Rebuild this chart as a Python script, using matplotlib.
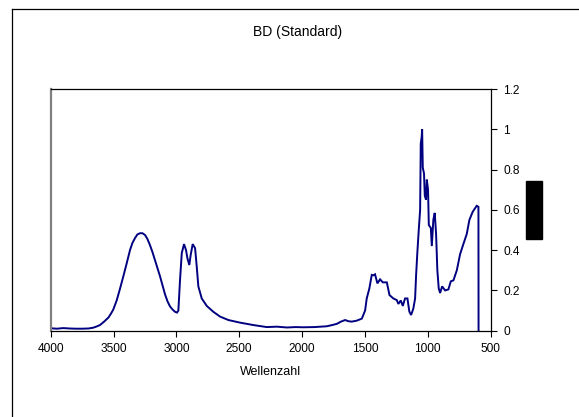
import matplotlib
matplotlib.use("Agg")
import matplotlib.pyplot as plt
from matplotlib.lines import Line2D
from matplotlib.patches import Rectangle

plt.rcParams['font.family'] = ['Liberation Sans', 'DejaVu Sans']

title = "BD (Standard)"
xlabel = "Wellenzahl"
xticks = [4000, 3500, 3000, 2500, 2000, 1500, 1000, 500]
yticks = [0, 0.2, 0.4, 0.6, 0.8, 1.0, 1.2]
ytick_labels = ["0", "0.2", "0.4", "0.6", "0.8", "1", "1.2"]

wavenumber = [4000, 3950, 3900, 3850, 3800, 3750, 3700, 3661, 3630, 3608, 3575, 3541, 3520,
              3502, 3475, 3450, 3422, 3395, 3369, 3350, 3329, 3310, 3289, 3270, 3249, 3230,
              3210, 3190, 3170, 3150, 3130, 3110, 3090, 3070, 3050, 3030, 3011, 2995, 2984,
              2971, 2957, 2939, 2923, 2912, 2897, 2886, 2870, 2851, 2838, 2825, 2798, 2758,
              2706, 2652, 2586, 2493, 2387, 2281, 2200, 2121, 2050, 1989, 1900, 1803, 1760,
              1723, 1690, 1657, 1630, 1604, 1564, 1524, 1498, 1485, 1464, 1445, 1432, 1419,
              1400, 1379, 1357, 1325, 1304, 1273, 1246, 1233, 1214, 1198, 1180, 1161, 1146,
              1132, 1114, 1100, 1092, 1082, 1071, 1060, 1055, 1048, 1044, 1039, 1029, 1023,
              1013, 1007, 997, 991, 975, 967, 955, 944, 933, 923, 912, 901, 885, 861, 835,
              816, 795, 768, 742, 716, 689, 668, 642, 610, 596, 595]
absorbance = [0.012, 0.010, 0.013, 0.011, 0.010, 0.010, 0.011, 0.015, 0.022, 0.028, 0.045, 0.065, 0.085,
              0.105, 0.150, 0.205, 0.270, 0.335, 0.400, 0.435, 0.460, 0.478, 0.484, 0.484, 0.475, 0.455,
              0.425, 0.390, 0.350, 0.310, 0.270, 0.225, 0.180, 0.145, 0.120, 0.105, 0.094, 0.090, 0.100,
              0.250, 0.385, 0.430, 0.400, 0.360, 0.326, 0.376, 0.430, 0.410, 0.320, 0.220, 0.160, 0.123,
              0.094, 0.070, 0.053, 0.040, 0.028, 0.018, 0.020, 0.016, 0.018, 0.017, 0.018, 0.022, 0.028,
              0.034, 0.045, 0.053, 0.047, 0.045, 0.050, 0.060, 0.100, 0.160, 0.210, 0.277, 0.275, 0.280,
              0.235, 0.255, 0.240, 0.240, 0.177, 0.160, 0.152, 0.133, 0.150, 0.123, 0.160, 0.160, 0.095,
              0.078, 0.110, 0.160, 0.277, 0.390, 0.500, 0.600, 0.930, 0.960, 1.000, 0.810, 0.780, 0.670,
              0.650, 0.750, 0.700, 0.525, 0.510, 0.420, 0.550, 0.585, 0.480, 0.300, 0.210, 0.187, 0.220,
              0.200, 0.205, 0.245, 0.250, 0.300, 0.380, 0.430, 0.480, 0.550, 0.590, 0.620, 0.615, 0.0]

W, H = 579, 417
fig = plt.figure(figsize=(W / 100, H / 100), dpi=100)
fig.patch.set_facecolor('white')

ax = fig.add_axes([50.7 / W, 1 - 330.7 / H, (490.5 - 50.7) / W, (330.7 - 89) / H])
ax.plot(wavenumber, absorbance, color='#000080', lw=1.4, solid_joinstyle='miter')
ax.set_xlim(4000, 500)
ax.set_ylim(0, 1.2)

ax.set_xticks(xticks)
ax.set_xticklabels([str(t) for t in xticks])
ax.set_yticks(yticks)
ax.set_yticklabels(ytick_labels)
ax.yaxis.tick_right()
ax.tick_params(axis='both', direction='out', length=4, width=0.8, labelsize=8.6,
               colors='black', pad=3)
ax.tick_params(axis='y', pad=5)
ax.tick_params(axis='x', pad=5)

for side in ['top', 'right', 'bottom']:
    ax.spines[side].set_color('black')
    ax.spines[side].set_linewidth(0.9)
ax.spines['left'].set_color('#808080')
ax.spines['left'].set_linewidth(1.6)

ax.set_xlabel(xlabel, fontsize=9, labelpad=8)

fig.text(297.5 / W, 1 - 32 / H, title, ha='center', va='center', fontsize=10)

# outer chart frame (left and top edges)
fig.add_artist(Line2D([12 / W, 12 / W], [0, 1 - 9 / H], color='black', lw=0.9,
                      transform=fig.transFigure))
fig.add_artist(Line2D([12 / W, 1], [1 - 9 / H, 1 - 9 / H], color='black', lw=0.9,
                      transform=fig.transFigure))

# black legend block
fig.add_artist(Rectangle((526 / W, 1 - 239 / H), 16 / W, 58 / H, color='black',
                         transform=fig.transFigure))

fig.savefig('out.png', dpi=100)
